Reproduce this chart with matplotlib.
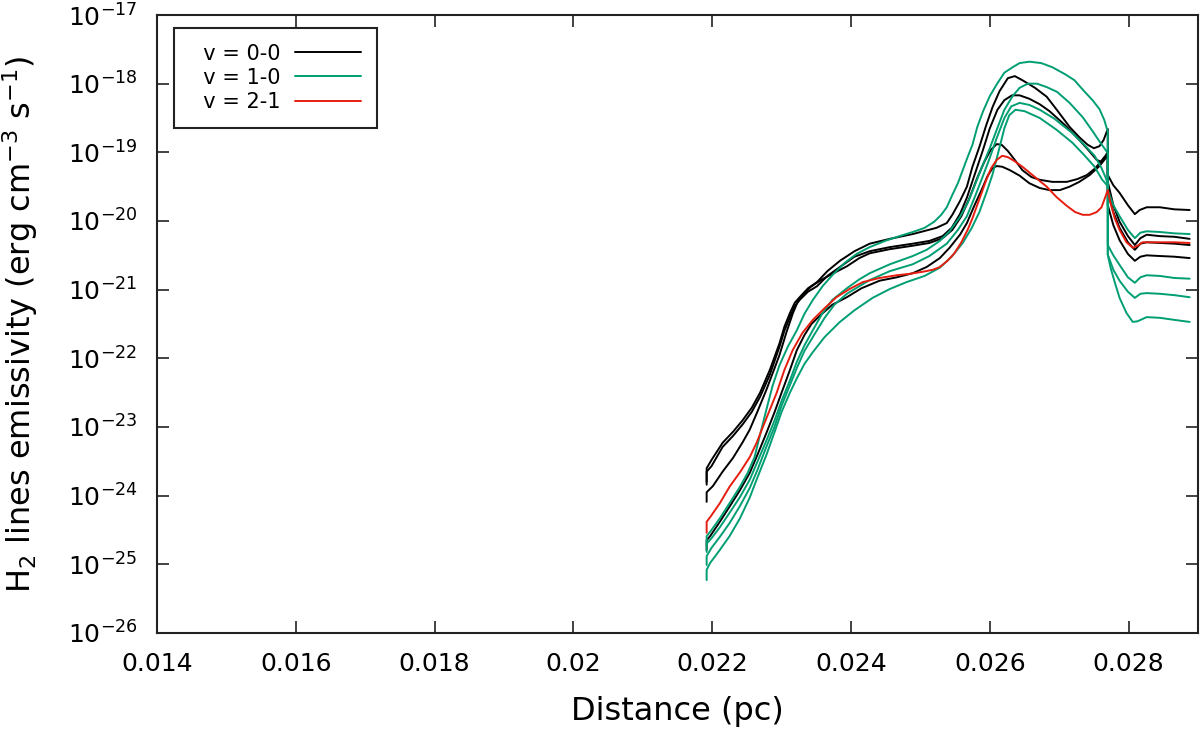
import matplotlib
matplotlib.use("Agg")
import matplotlib.pyplot as plt
import numpy as np

# ---------------- data: distance (pc) and log10 emissivity (erg cm^-3 s^-1) ----------------
# v = 0-0 (black)
b1_x = [0.02192, 0.02192, 0.02199, 0.02215, 0.02230, 0.02244, 0.02257, 0.02269, 0.02283, 0.02297,
        0.02304, 0.02312, 0.02319, 0.02326, 0.02338, 0.02351, 0.02366, 0.02384, 0.02405, 0.02427,
        0.02456, 0.02489, 0.02523, 0.02538, 0.02546, 0.02557, 0.02567, 0.02575, 0.02585, 0.02595,
        0.02604, 0.02614, 0.02626, 0.02636, 0.02647, 0.02665, 0.02682, 0.02698, 0.02715, 0.02729,
        0.02741, 0.02750, 0.02758, 0.02764, 0.02770, 0.02770, 0.02778, 0.02787, 0.02799, 0.02809,
        0.02816, 0.02826, 0.02845, 0.02866, 0.02888]
b1_y = [-23.84, -23.60, -23.48, -23.23, -23.07, -22.90, -22.72, -22.50, -22.17, -21.78,
        -21.54, -21.34, -21.19, -21.11, -20.98, -20.89, -20.73, -20.58, -20.44, -20.33,
        -20.26, -20.19, -20.10, -20.03, -19.91, -19.71, -19.50, -19.21, -18.92, -18.60,
        -18.34, -18.11, -17.92, -17.89, -17.95, -18.06, -18.19, -18.40, -18.63, -18.78,
        -18.89, -18.94, -18.91, -18.82, -18.66, -19.33, -19.48, -19.59, -19.77, -19.90,
        -19.84, -19.80, -19.80, -19.83, -19.84]

b2_x = [0.02192, 0.02192, 0.02199, 0.02215, 0.02230, 0.02244, 0.02257, 0.02269, 0.02283, 0.02297,
        0.02304, 0.02312, 0.02319, 0.02326, 0.02338, 0.02351, 0.02366, 0.02384, 0.02405, 0.02427,
        0.02456, 0.02489, 0.02513, 0.02532, 0.02545, 0.02557, 0.02567, 0.02578, 0.02590, 0.02600,
        0.02611, 0.02621, 0.02632, 0.02643, 0.02657, 0.02672, 0.02686, 0.02708, 0.02729, 0.02744,
        0.02754, 0.02761, 0.02767, 0.02770, 0.02770, 0.02778, 0.02787, 0.02799, 0.02809, 0.02817,
        0.02826, 0.02845, 0.02866, 0.02888]
b2_y = [-23.80, -23.65, -23.57, -23.29, -23.13, -22.96, -22.78, -22.56, -22.24, -21.83,
        -21.60, -21.40, -21.24, -21.15, -21.03, -20.95, -20.80, -20.67, -20.52, -20.44,
        -20.38, -20.33, -20.29, -20.22, -20.10, -19.90, -19.66, -19.33, -18.97, -18.65,
        -18.38, -18.24, -18.17, -18.17, -18.22, -18.30, -18.40, -18.60, -18.82, -18.99,
        -19.11, -19.14, -19.07, -18.97, -19.43, -19.77, -20.01, -20.22, -20.35, -20.25,
        -20.20, -20.22, -20.23, -20.26]

b3_x = [0.02192, 0.02192, 0.02201, 0.02215, 0.02230, 0.02244, 0.02254, 0.02265, 0.02278, 0.02290,
        0.02297, 0.02307, 0.02316, 0.02323, 0.02330, 0.02342, 0.02355, 0.02373, 0.02394, 0.02412,
        0.02427, 0.02456, 0.02489, 0.02513, 0.02532, 0.02546, 0.02559, 0.02571, 0.02582, 0.02592,
        0.02601, 0.02610, 0.02617, 0.02626, 0.02636, 0.02647, 0.02660, 0.02672, 0.02690, 0.02711,
        0.02726, 0.02740, 0.02751, 0.02758, 0.02765, 0.02770, 0.02770, 0.02778, 0.02787, 0.02799,
        0.02809, 0.02817, 0.02826, 0.02845, 0.02866, 0.02888]
b3_y = [-24.09, -23.95, -23.86, -23.65, -23.45, -23.22, -23.04, -22.78, -22.46, -22.14,
        -21.95, -21.62, -21.35, -21.18, -21.08, -20.96, -20.87, -20.77, -20.66, -20.54,
        -20.47, -20.41, -20.36, -20.32, -20.25, -20.13, -19.93, -19.66, -19.37, -19.14,
        -18.97, -18.88, -18.89, -18.98, -19.11, -19.26, -19.36, -19.40, -19.43, -19.43,
        -19.39, -19.33, -19.24, -19.16, -19.07, -19.01, -19.58, -19.87, -20.10, -20.31,
        -20.42, -20.33, -20.31, -20.32, -20.33, -20.35]

b4_x = [0.02192, 0.02192, 0.02197, 0.02211, 0.02225, 0.02240, 0.02254, 0.02265, 0.02278, 0.02290,
        0.02300, 0.02312, 0.02322, 0.02333, 0.02343, 0.02355, 0.02373, 0.02394, 0.02415, 0.02441,
        0.02466, 0.02489, 0.02509, 0.02528, 0.02542, 0.02557, 0.02567, 0.02578, 0.02588, 0.02597,
        0.02604, 0.02610, 0.02618, 0.02629, 0.02643, 0.02657, 0.02672, 0.02686, 0.02701, 0.02715,
        0.02729, 0.02744, 0.02758, 0.02765, 0.02770, 0.02770, 0.02778, 0.02787, 0.02799, 0.02809,
        0.02817, 0.02826, 0.02845, 0.02866, 0.02888]
b4_y = [-24.79, -24.65, -24.59, -24.38, -24.16, -23.92, -23.67, -23.41, -23.09, -22.78,
        -22.50, -22.17, -21.88, -21.66, -21.50, -21.38, -21.22, -21.11, -20.98, -20.87,
        -20.82, -20.76, -20.67, -20.54, -20.39, -20.20, -20.03, -19.77, -19.55, -19.34,
        -19.23, -19.20, -19.21, -19.26, -19.34, -19.45, -19.52, -19.55, -19.55, -19.50,
        -19.43, -19.33, -19.20, -19.11, -19.04, -19.77, -20.06, -20.28, -20.48, -20.58,
        -20.52, -20.50, -20.51, -20.52, -20.54]

# v = 2-1 (red)
r1_x = [0.02192, 0.02192, 0.02198, 0.02211, 0.02225, 0.02240, 0.02254, 0.02264, 0.02273, 0.02283,
        0.02293, 0.02304, 0.02316, 0.02330, 0.02345, 0.02362, 0.02379, 0.02398, 0.02417, 0.02441,
        0.02466, 0.02484, 0.02503, 0.02518, 0.02528, 0.02539, 0.02549, 0.02559, 0.02568, 0.02575,
        0.02585, 0.02595, 0.02602, 0.02610, 0.02618, 0.02626, 0.02636, 0.02647, 0.02665, 0.02682,
        0.02696, 0.02711, 0.02723, 0.02734, 0.02744, 0.02754, 0.02761, 0.02765, 0.02770, 0.02774,
        0.02780, 0.02787, 0.02797, 0.02806, 0.02813, 0.02820, 0.02845, 0.02866, 0.02888]
r1_y = [-24.54, -24.38, -24.30, -24.11, -23.87, -23.66, -23.44, -23.23, -23.00, -22.75,
        -22.50, -22.17, -21.88, -21.63, -21.44, -21.27, -21.11, -20.99, -20.89, -20.83,
        -20.79, -20.77, -20.74, -20.71, -20.67, -20.58, -20.47, -20.31, -20.13, -19.96,
        -19.68, -19.40, -19.23, -19.11, -19.05, -19.07, -19.13, -19.21, -19.36, -19.50,
        -19.65, -19.78, -19.87, -19.91, -19.91, -19.87, -19.80, -19.69, -19.55, -19.74,
        -19.96, -20.13, -20.31, -20.39, -20.36, -20.31, -20.31, -20.31, -20.32]

# v = 1-0 (green)
g1_x = [0.02192, 0.02192, 0.02199, 0.02211, 0.02225, 0.02240, 0.02251, 0.02261, 0.02270, 0.02278,
        0.02287, 0.02297, 0.02309, 0.02322, 0.02333, 0.02345, 0.02359, 0.02373, 0.02391, 0.02408,
        0.02427, 0.02449, 0.02470, 0.02489, 0.02506, 0.02520, 0.02530, 0.02538, 0.02546, 0.02554,
        0.02561, 0.02568, 0.02575, 0.02582, 0.02590, 0.02600, 0.02610, 0.02621, 0.02633, 0.02643,
        0.02657, 0.02674, 0.02690, 0.02708, 0.02722, 0.02736, 0.02748, 0.02758, 0.02765, 0.02770,
        0.02770, 0.02774, 0.02780, 0.02787, 0.02797, 0.02806, 0.02813, 0.02826, 0.02845, 0.02866,
        0.02888]
g1_y = [-24.72, -24.59, -24.50, -24.33, -24.11, -23.87, -23.67, -23.44, -23.07, -22.75,
        -22.40, -22.10, -21.83, -21.59, -21.35, -21.15, -20.95, -20.79, -20.61, -20.48,
        -20.38, -20.29, -20.22, -20.16, -20.10, -20.01, -19.91, -19.80, -19.62, -19.45,
        -19.26, -19.07, -18.89, -18.63, -18.41, -18.18, -18.01, -17.84, -17.76, -17.70,
        -17.68, -17.70, -17.76, -17.86, -17.95, -18.11, -18.24, -18.37, -18.53, -18.70,
        -20.49, -20.68, -20.89, -21.12, -21.34, -21.47, -21.46, -21.40, -21.41, -21.44,
        -21.47]

g2_x = [0.02192, 0.02192, 0.02199, 0.02211, 0.02225, 0.02240, 0.02254, 0.02265, 0.02278, 0.02290,
        0.02300, 0.02312, 0.02322, 0.02333, 0.02345, 0.02359, 0.02373, 0.02394, 0.02412, 0.02427,
        0.02456, 0.02489, 0.02509, 0.02528, 0.02542, 0.02557, 0.02568, 0.02578, 0.02588, 0.02600,
        0.02610, 0.02621, 0.02633, 0.02643, 0.02655, 0.02668, 0.02682, 0.02697, 0.02715, 0.02734,
        0.02748, 0.02758, 0.02765, 0.02770, 0.02770, 0.02778, 0.02787, 0.02799, 0.02809, 0.02817,
        0.02826, 0.02845, 0.02866, 0.02888]
g2_y = [-24.82, -24.70, -24.62, -24.46, -24.25, -24.02, -23.77, -23.51, -23.20, -22.90,
        -22.62, -22.32, -22.05, -21.81, -21.59, -21.34, -21.15, -20.98, -20.85, -20.76,
        -20.63, -20.51, -20.42, -20.29, -20.15, -19.94, -19.74, -19.49, -19.23, -18.94,
        -18.67, -18.38, -18.18, -18.06, -18.00, -18.00, -18.05, -18.12, -18.28, -18.49,
        -18.69, -18.84, -18.94, -19.01, -19.55, -19.77, -19.93, -20.13, -20.25, -20.17,
        -20.15, -20.16, -20.18, -20.19]

g3_x = [0.02192, 0.02192, 0.02199, 0.02211, 0.02225, 0.02240, 0.02254, 0.02265, 0.02278, 0.02290,
        0.02300, 0.02312, 0.02322, 0.02333, 0.02348, 0.02362, 0.02376, 0.02394, 0.02412, 0.02427,
        0.02456, 0.02489, 0.02513, 0.02538, 0.02554, 0.02567, 0.02578, 0.02588, 0.02600, 0.02610,
        0.02621, 0.02631, 0.02643, 0.02657, 0.02672, 0.02693, 0.02719, 0.02736, 0.02751, 0.02761,
        0.02767, 0.02770, 0.02770, 0.02778, 0.02787, 0.02799, 0.02809, 0.02817, 0.02826, 0.02845,
        0.02866, 0.02888]
g3_y = [-25.01, -24.88, -24.76, -24.60, -24.40, -24.15, -23.89, -23.63, -23.29, -22.99,
        -22.69, -22.39, -22.14, -21.89, -21.64, -21.41, -21.22, -21.06, -20.95, -20.86,
        -20.73, -20.63, -20.51, -20.33, -20.13, -19.93, -19.66, -19.40, -19.08, -18.79,
        -18.50, -18.33, -18.28, -18.31, -18.38, -18.51, -18.72, -18.89, -19.05, -19.23,
        -19.37, -19.46, -20.35, -20.50, -20.64, -20.82, -20.90, -20.82, -20.79, -20.80,
        -20.83, -20.84]

g4_x = [0.02192, 0.02192, 0.02197, 0.02211, 0.02225, 0.02240, 0.02254, 0.02265, 0.02278, 0.02290,
        0.02300, 0.02312, 0.02322, 0.02333, 0.02345, 0.02362, 0.02384, 0.02405, 0.02431, 0.02456,
        0.02480, 0.02506, 0.02528, 0.02545, 0.02561, 0.02574, 0.02585, 0.02595, 0.02604, 0.02613,
        0.02621, 0.02628, 0.02637, 0.02650, 0.02672, 0.02696, 0.02719, 0.02736, 0.02751, 0.02762,
        0.02770, 0.02770, 0.02778, 0.02787, 0.02799, 0.02809, 0.02817, 0.02826, 0.02845, 0.02866,
        0.02888]
g4_y = [-25.23, -25.08, -24.98, -24.79, -24.59, -24.33, -24.03, -23.74, -23.41, -23.07,
        -22.78, -22.50, -22.29, -22.08, -21.91, -21.69, -21.47, -21.30, -21.12, -20.99,
        -20.89, -20.80, -20.68, -20.52, -20.32, -20.10, -19.87, -19.59, -19.32, -18.97,
        -18.65, -18.46, -18.38, -18.40, -18.50, -18.67, -18.86, -19.04, -19.21, -19.40,
        -19.49, -20.49, -20.71, -20.87, -21.03, -21.12, -21.06, -21.05, -21.06, -21.08,
        -21.11]

series = [
    ("v = 0-0", "#000000", [(b1_x, b1_y), (b2_x, b2_y), (b3_x, b3_y), (b4_x, b4_y)]),
    ("v = 1-0", "#009e73", [(g1_x, g1_y), (g2_x, g2_y), (g3_x, g3_y), (g4_x, g4_y)]),
    ("v = 2-1", "#e51e10", [(r1_x, r1_y)]),
]

x_ticks = [0.014, 0.016, 0.018, 0.020, 0.022, 0.024, 0.026, 0.028]
x_tick_labels = ["0.014", "0.016", "0.018", "0.02", "0.022", "0.024", "0.026", "0.028"]
y_exponents = list(range(-26, -16))

# ---------------- figure ----------------
plt.rcParams['font.family'] = ['DejaVu Sans']
plt.rcParams['mathtext.fontset'] = 'dejavusans'

fig = plt.figure(figsize=(12, 7.36), dpi=100)
ax = fig.add_axes([157/1200, 1 - 633/736, (1198-157)/1200, (633-15)/736])

handles = []
for label, color, curves in series:
    for i, (xs, ys) in enumerate(curves):
        ln, = ax.plot(xs, 10.0 ** np.array(ys), color=color, lw=1.4,
                      label=label if i == 0 else None,
                      solid_joinstyle='round', solid_capstyle='round')
        if i == 0:
            handles.append(ln)

ax.set_yscale('log')
ax.set_xlim(0.014, 0.029)
ax.set_ylim(1e-26, 1e-17)

ax.set_xticks(x_ticks)
ax.set_xticklabels(x_tick_labels)
ax.set_yticks([10.0 ** e for e in y_exponents])
ax.set_yticklabels([r"$10^{%d}$" % e for e in y_exponents])
ax.yaxis.set_minor_locator(matplotlib.ticker.NullLocator())
ax.xaxis.set_minor_locator(matplotlib.ticker.NullLocator())

ax.tick_params(axis='both', which='major', direction='in', length=8.5, width=1.2,
               top=True, right=True, labelsize=18, pad=14, color='#222222')
for sp in ax.spines.values():
    sp.set_linewidth(1.5)
    sp.set_color('#222222')

ax.set_xlabel("Distance (pc)", fontsize=23)
ax.set_ylabel(r"H$_2$ lines emissivity (erg cm$^{-3}$ s$^{-1}$)", fontsize=23)
ax.xaxis.set_label_coords(0.5, -0.102)
ax.yaxis.set_label_coords(-0.112, 0.5)

leg = ax.legend(handles=handles, labels=["  " + s[0] for s in series],
                loc='upper left', bbox_to_anchor=(0.0163, 0.979),
                borderaxespad=0, markerfirst=False, fontsize=15, handlelength=3.2,
                handletextpad=0.7, labelspacing=0.2, borderpad=0.75, fancybox=False,
                framealpha=1, edgecolor='#222222')
leg.get_frame().set_linewidth(1.5)

fig.savefig("out.png", dpi=100)
